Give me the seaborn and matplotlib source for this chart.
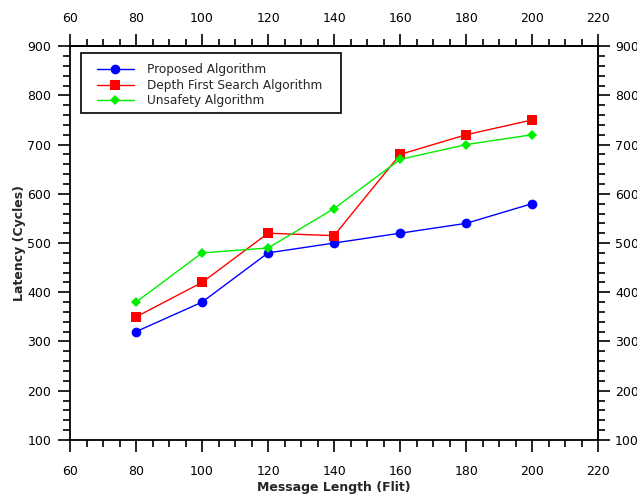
import matplotlib
matplotlib.use("Agg")
import matplotlib.pyplot as plt
import seaborn as sns
import pandas as pd
from matplotlib.ticker import MultipleLocator
from matplotlib.patches import Rectangle

msg_length = [80, 100, 120, 140, 160, 180, 200]
proposed = [320, 380, 480, 500, 520, 540, 580]
dfs = [350, 420, 520, 515, 680, 720, 750]
unsafety = [380, 480, 490, 570, 670, 700, 720]

names = ["Proposed Algorithm", "Depth First Search Algorithm", "Unsafety Algorithm"]

df = pd.DataFrame({
    "length": msg_length * 3,
    "latency": proposed + dfs + unsafety,
    "algo": [n for n in names for _ in msg_length],
})

sns.set_style("ticks")
plt.rcParams['font.family'] = ['DejaVu Sans']

fig = plt.figure(figsize=(6.37, 4.96), dpi=100)
ax = fig.add_axes([0.110, 0.113, 0.829, 0.794])

colors = {"Proposed Algorithm": "#0000ff",
          "Depth First Search Algorithm": "#ff0000",
          "Unsafety Algorithm": "#00ee00"}
markers = {"Proposed Algorithm": "o",
           "Depth First Search Algorithm": "s",
           "Unsafety Algorithm": "D"}
msizes = {"Proposed Algorithm": 7,
          "Depth First Search Algorithm": 7,
          "Unsafety Algorithm": 5}

for n in names:
    sub = df[df["algo"] == n]
    sns.lineplot(data=sub, x="length", y="latency", ax=ax, color=colors[n],
                 marker=markers[n], markersize=msizes[n], markeredgewidth=0,
                 linewidth=1, label=n)

ax.set_xlim(60, 220)
ax.set_ylim(100, 900)


def set_locs(axis, major, minor):
    axis.set_major_locator(MultipleLocator(major))
    axis.set_minor_locator(MultipleLocator(minor))


set_locs(ax.xaxis, 20, 5)
set_locs(ax.yaxis, 100, 20)

# top and right get their own axes so the label gaps can differ
top = ax.secondary_xaxis("top")
right = ax.secondary_yaxis("right")
set_locs(top.xaxis, 20, 5)
set_locs(right.yaxis, 100, 20)

tick_kw = dict(which="both", direction="out", labelsize=9, width=1.2, colors="black")
ax.tick_params(top=False, right=False, **tick_kw)
top.tick_params(**tick_kw)
right.tick_params(**tick_kw)
for a in (ax, top, right):
    a.tick_params(which="major", length=8.5)
    a.tick_params(which="minor", length=5)
ax.tick_params(axis="x", which="major", pad=9.5)
ax.tick_params(axis="y", which="major", pad=5)
top.tick_params(which="major", pad=6.5)
right.tick_params(which="major", pad=3.6)

for a in (ax, top, right):
    for s in a.spines.values():
        s.set_linewidth(1.3)
        s.set_color("black")
for s in ax.spines.values():
    s.set_visible(True)

ax.set_xlabel("Message Length (Flit)", fontsize=9, fontweight="bold", labelpad=2.5)
ax.set_ylabel("Latency (Cycles)", fontsize=9, fontweight="bold", labelpad=1)

leg = ax.legend(loc="upper left", bbox_to_anchor=(0.051, 0.956), fontsize=8.7,
                frameon=False, borderpad=0, handlelength=3.05,
                labelspacing=0.2, handletextpad=1.07, borderaxespad=0)
ax.add_patch(Rectangle((0.0208, 0.830), 0.492, 0.152, transform=ax.transAxes,
                       fill=False, edgecolor="black", linewidth=1.2, zorder=5))

fig.savefig("out.png", dpi=100)
